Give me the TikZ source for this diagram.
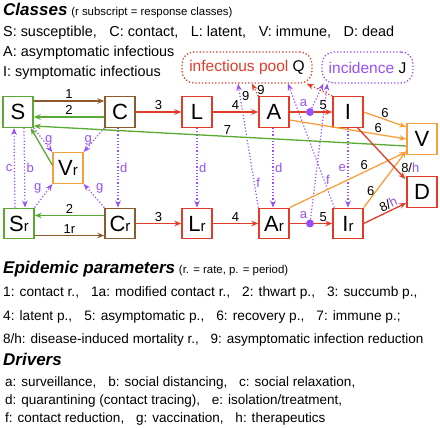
\documentclass[tikz,border=0pt]{standalone}
\usepackage{fontspec}
\setmainfont{Liberation Sans}
\usetikzlibrary{arrows.meta}

\definecolor{sgreen}{RGB}{88,170,50}
\definecolor{cbrown}{RGB}{140,90,45}
\definecolor{ired}{RGB}{225,60,40}
\definecolor{vorange}{RGB}{245,160,60}
\definecolor{dpurple}{RGB}{150,80,245}

\newcommand{\rcls}[1]{#1{\fontsize{15}{15}\selectfont r}}
\newcommand{\hd}[1]{{\bfseries\itshape\fontsize{17}{17}\selectfont #1}}

\tikzset{
  cls/.style={draw, line width=1.4pt, fill=white, minimum width=30pt, minimum height=30.5pt,
    inner sep=0pt, font=\fontsize{22}{22}\selectfont},
  lbl/.style={text=black, font=\fontsize{13}{13}\selectfont, inner sep=1.5pt},
  dlbl/.style={text=dpurple, font=\fontsize{13}{13}\selectfont, inner sep=1.5pt},
  flow/.style={line width=1.3pt, ->},
  drv/.style={dpurple, dotted, line width=1.2pt, ->},
  qin/.style={ired, dotted, line width=1.2pt, ->},
  dot/.style={circle, fill=dpurple, minimum size=8pt, inner sep=0pt},
  pool/.style={draw, dotted, line width=1.3pt, rounded corners=12pt, minimum height=31pt,
    inner sep=0pt, font=\fontsize{15.5}{15.5}\selectfont},
  txt/.style={anchor=base west, inner sep=0pt, font=\fontsize{13.7}{13.7}\selectfont},
}

\begin{document}
\begin{tikzpicture}[x=1pt, y=-1pt, >={Stealth[length=7pt, width=5.5pt]}]
  \useasboundingbox (0,0) rectangle (440,428);

  % legend of classes
  \node[txt] (clsT) at (3,15.5) {\hd{Classes} {\fontsize{11.4}{11.4}\selectfont (r subscript = response classes)}};
  \node[txt, font=\fontsize{14.4}{14.4}\selectfont] (cls1) at (3,37) {S: susceptible,\hspace{0.6em} C: contact,\hspace{0.6em} L: latent,\hspace{0.6em} V: immune,\hspace{0.6em} D: dead};
  \node[txt, font=\fontsize{14.4}{14.4}\selectfont] (cls2) at (3,57) {A: asymptomatic infectious};
  \node[txt, font=\fontsize{14.4}{14.4}\selectfont] (cls3) at (3,76.5) {I: symptomatic infectious};

  % pools
  \node[pool, draw=ired, text=ired, minimum width=130pt] (Q) at (247,67.5) {infectious pool \textcolor{black}{Q}};
  \node[pool, draw=dpurple, text=dpurple, minimum width=91pt] (J) at (367.5,67.5) {incidence \textcolor{black}{J}};

  % classes
  \node[cls, draw=sgreen]  (S)  at (18,112)  {S};
  \node[cls, draw=cbrown]  (C)  at (120,112) {C};
  \node[cls, draw=ired]    (L)  at (197,112) {L};
  \node[cls, draw=ired]    (A)  at (274,112) {A};
  \node[cls, draw=ired]    (I)  at (348,112) {I};
  \node[cls, draw=vorange] (V)  at (422,139) {V};
  \node[cls, draw=ired]    (D)  at (422,192) {D};
  \node[cls, draw=vorange] (Vr) at (68,168)  {\rcls{V}};
  \node[cls, draw=sgreen]  (Sr) at (19,223.5)  {\rcls{S}};
  \node[cls, draw=cbrown]  (Cr) at (120,223.5) {\rcls{C}};
  \node[cls, draw=ired]    (Lr) at (197,223.5) {\rcls{L}};
  \node[cls, draw=ired]    (Ar) at (274,223.5) {\rcls{A}};
  \node[cls, draw=ired]    (Ir) at (348,223.5) {\rcls{I}};

  \node[dot, label={[dlbl, inner sep=1pt]115:a}] (aT) at (310,112) {};
  \node[dot, label={[dlbl, inner sep=1pt]115:a}] (aB) at (310,223.5) {};

  % drivers
  \path ([xshift=-4pt]Sr.north) edge[drv] node[left, dlbl] {c} ([xshift=-4pt]S.south);
  \path ([xshift=6pt]S.south) edge[drv] node[right, dlbl] {b} ([xshift=6pt]Sr.north);
  \path (S.south east) edge[drv] node[right, dlbl] {g} (Vr.north west);
  \path (C.south west) edge[drv] node[left, dlbl] {g} (Vr.north east);
  \path (Sr.north east) edge[drv] node[above left, dlbl] {g} (Vr.south west);
  \path (Cr.north west) edge[drv] node[above right, dlbl] {g} (Vr.south east);
  \path ([xshift=-2pt]C.south) edge[drv] node[right, dlbl] {d} ([xshift=-2pt]Cr.north);
  \path (L.south) edge[drv] node[right, dlbl] {d} (Lr.north);
  \path ([xshift=-1pt]A.south) edge[drv] node[right, dlbl] {d} ([xshift=-1pt]Ar.north);
  \path (I.south) edge[drv] node[left, dlbl] {e} (Ir.north);
  \path (Ar.north west) edge[drv] node[pos=0.2, right, dlbl] {f} node[pos=0.9, right, lbl] {9} ([xshift=-9pt]Q.south);
  \path ([xshift=2pt]Ir.north west) edge[drv] node[pos=0.22, right, dlbl] {f} ([xshift=41pt]Q.south);
  \path (aT) edge[drv] ([xshift=2pt]J.south west);
  \path (aB) edge[drv] ([xshift=6pt]J.south west);
  \path (A.north west) edge[qin] node[right, lbl] {9} ([xshift=5pt]Q.south);
  \path (I.north west) edge[qin] ([xshift=-6pt]Q.south east);

  % flows
  \path ([yshift=11pt]S.east) edge[flow, cbrown] node[above, lbl] {1} ([yshift=11pt]C.west);
  \path ([yshift=-5pt]C.west) edge[flow, sgreen] node[above, lbl] {2} ([yshift=-5pt]S.east);
  \path (C) edge[flow, ired] node[above, lbl] {3} (L);
  \path (L) edge[flow, ired] node[above, lbl] {4} (A);
  \path (A) edge[line width=1.3pt, ired] (aT);
  \path (aT) edge[flow, ired] node[above, lbl] {5} (I);
  \path ([yshift=8pt]Cr.west) edge[flow, sgreen] node[above, lbl] {2} ([yshift=8pt]Sr.east);
  \path ([yshift=-12pt]Sr.east) edge[flow, cbrown] node[above, lbl] {1r} ([yshift=-12pt]Cr.west);
  \path (Cr) edge[flow, ired] node[above, lbl] {3} (Lr);
  \path (Lr) edge[flow, ired] node[above, lbl] {4} (Ar);
  \path (Ar) edge[line width=1.3pt, ired] (aB);
  \path (aB) edge[flow, ired] node[above, lbl] {5} (Ir);
  \path ([yshift=3pt]Vr.west) edge[flow, sgreen] ([xshift=-3pt]S.south east);
  \path ([yshift=-7pt]V.west) edge[flow, sgreen] node[pos=0.48, above, lbl] {7} ([yshift=-14pt]S.east);
  \path ([yshift=-8pt]A.east) edge[flow, vorange] node[pos=0.76, above, lbl] {6} (V.west);
  \path (I.east) edge[flow, vorange] node[pos=0.5, above, lbl] {6} ([yshift=12pt]V.west);
  \path (Ar.north east) edge[flow, vorange] node[pos=0.64, above, lbl] {6} ([yshift=3pt]V.south west);
  \path (Ir.north east) edge[flow, vorange] node[pos=0.3, left, lbl] {6} ([yshift=4pt]V.south west);
  \path ([xshift=-6pt]I.south east) edge[flow, ired] node[at end, above, xshift=5pt, yshift=4pt, lbl] {8/\textcolor{dpurple}{h}} ([xshift=-1pt, yshift=-3pt]D.north west);
  \path (Ir.east) edge[flow, ired] node[pos=0.64, sloped, above, lbl, inner sep=1pt] {8/\textcolor{dpurple}{h}} ([yshift=5pt]D.south west);

  % parameters and drivers
  \node[txt] (parT) at (3,273) {\hd{Epidemic parameters} {\fontsize{11.4}{11.4}\selectfont (r. = rate, p. = period)}};
  \node[txt] (par1) at (3,296.7) {1: contact r.,\hspace{0.6em} 1a: modified contact r.,\hspace{0.6em} 2: thwart p.,\hspace{0.6em} 3: succumb p.,};
  \node[txt] (par2) at (3,320) {4: latent p.,\hspace{0.6em} 5: asymptomatic p.,\hspace{0.6em} 6: recovery p.,\hspace{0.6em} 7: immune p.;};
  \node[txt, font=\fontsize{13.5}{13.5}\selectfont] (par3) at (3,343) {8/h: disease-induced mortality r.,\hspace{0.6em} 9: asymptomatic infection reduction};
  \node[txt] (drvT) at (3,365) {\hd{Drivers}};
  \node[txt, font=\fontsize{13.5}{13.5}\selectfont] (drv1) at (5,386) {a: surveillance,\hspace{0.6em} b: social distancing,\hspace{0.6em} c: social relaxation,};
  \node[txt, font=\fontsize{13.5}{13.5}\selectfont] (drv2) at (5,404.3) {d: quarantining (contact tracing),\hspace{0.6em} e: isolation/treatment,};
  \node[txt, font=\fontsize{13.5}{13.5}\selectfont] (drv3) at (5,422.7) {f: contact reduction,\hspace{0.6em} g: vaccination,\hspace{0.6em} h: therapeutics};
\end{tikzpicture}
\end{document}
